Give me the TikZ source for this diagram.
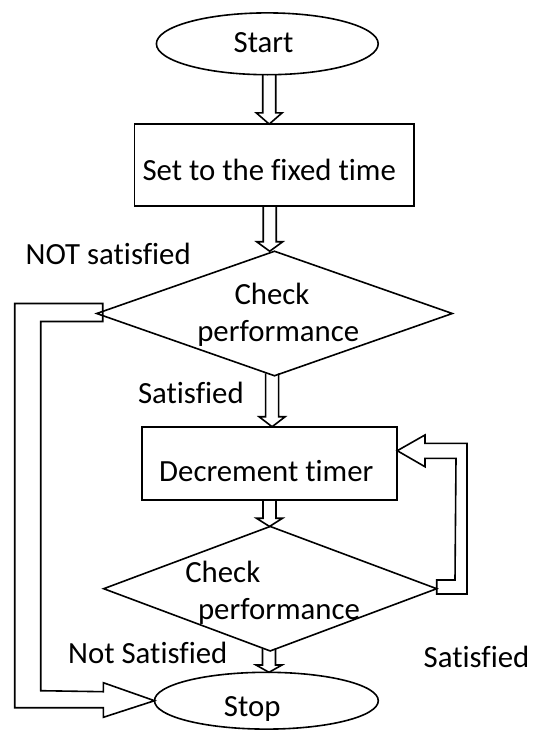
\documentclass[tikz,border=0pt]{standalone}
\usepackage{fontspec}
\setmainfont{Carlito}[Ligatures={NoCommon}]
\usetikzlibrary{shapes.geometric,calc}

% Hollow block arrow pointing down: #1 source anchor, #2 target anchor,
% #3 x offset of the arrow axis from the target anchor, #4 head length,
% #5 how far the shaft starts inside the source shape
\newcommand\downblock[5]{%
  \draw[hollow] let \p1=(#1), \p2=($(#2)+(#3,0)$) in
    (\x2-6.5pt,\y1+#5pt) -- (\x2-6.5pt,\y2+#4pt) -- (\x2-13pt,\y2+#4pt)
    -- (\x2,\y2) -- (\x2+13pt,\y2+#4pt) -- (\x2+6.5pt,\y2+#4pt)
    -- (\x2+6.5pt,\y1+#5pt);}

\begin{document}
\begin{tikzpicture}[x=1pt,y=-1pt,
  outline/.style={draw=black,line width=1.6pt,inner sep=0pt,outer sep=0pt},
  terminal/.style={outline,ellipse},
  process/.style={outline,rectangle},
  decision/.style={outline,diamond},
  lbl/.style={inner sep=0pt,anchor=base,font=\fontsize{30.8}{37}\selectfont},
  lblw/.style={lbl,anchor=base west},
  hollow/.style={draw=black,line width=1.6pt,line join=miter}]

\useasboundingbox (0,0) rectangle (533,731);

% flowchart shapes
\node[terminal,minimum width=221.8pt,minimum height=61.8pt] (start) at (267.3,43.8) {};
\node[process,minimum width=279.6pt,minimum height=81.8pt] (set) at (274.2,165) {};
\node[decision,minimum width=355.6pt,minimum height=124.5pt] (chk1) at (274.5,313.5) {};
\node[process,minimum width=255.1pt,minimum height=73.5pt] (dec) at (269.7,463.5) {};
\node[decision,minimum width=333pt,minimum height=124.5pt] (chk2) at (270.2,588.7) {};
\node[terminal,minimum width=223.8pt,minimum height=56.8pt] (stop) at (266.4,700.7) {};

% texts
\node[lbl] (tstart) at (263.6,52.7) {Start};
\node[lbl] (tset) at (269.2,180.2) {Set to the fixed time};
\node[lbl] (tchk1a) at (272,304.4) {Check};
\node[lbl] (tchk1b) at (278.2,341.8) {performance};
\node[lbl] (tdec) at (266.3,481.3) {Decrement timer};
\node[lbl] (tchk2a) at (222.8,582) {Check};
\node[lbl] (tchk2b) at (279,619.5) {performance};
\node[lbl] (tstop) at (252.2,716.4) {Stop};
\node[lblw] (lnot1) at (25.5,264) {NOT satisfied};
\node[lblw] (lsat1) at (137.8,403) {Satisfied};
\node[lblw] (lnot2) at (68,663.7) {Not Satisfied};
\node[lblw] (lsat2) at (423.5,667) {Satisfied};

% straight block arrows
\downblock{start.south}{set.north}{-5}{11.3}{0}
\downblock{set.south}{chk1.north}{-4.8}{9.5}{0}
\downblock{chk1.south}{dec.north}{2.4}{10}{2.5}
\downblock{dec.south}{chk2.north}{-0.7}{8.2}{0}
\downblock{chk2.south}{stop.north}{2.6}{7.3}{2.5}

% NOT satisfied: from the first check round the left side to Stop
\draw[hollow] let \p1=(chk1.west), \p2=(stop.west) in
  (\x1+6pt,\y1+10pt) -- (\x1-82pt,\y1+10pt) -- (\x1-82pt,\y2-7pt)
  -- (\x2-51.2pt,\y2-7pt) -- (\x2-51.2pt,\y2-16.6pt) -- (\x2,\y2)
  -- (\x2-51.2pt,\y2+18pt) -- (\x2-51.2pt,\y2+9pt) -- (\x1-56pt,\y2+10pt)
  -- (\x1-56pt,\y1-8pt) -- (\x1+6pt,\y1-8pt) -- cycle;

% Satisfied: from the second check back up to Decrement timer
\draw[hollow] let \p1=(chk2.east), \p2=([yshift=12.8pt]dec.east) in
  (\x1,\y1+8.7pt) -- (\x1+18.3pt,\y1+8.7pt) -- (\x1+19.3pt,\y2-7.6pt)
  -- (\x2+27.7pt,\y2-7.6pt) -- (\x2+27.7pt,\y2-16pt) -- (\x2,\y2)
  -- (\x2+27.7pt,\y2+15.7pt) -- (\x2+27.7pt,\y2+7.4pt)
  -- (\x1+30.3pt,\y2+7.4pt) -- (\x1+30.3pt,\y1-5.3pt) -- (\x1,\y1-5.3pt) -- cycle;

\end{tikzpicture}
\end{document}
